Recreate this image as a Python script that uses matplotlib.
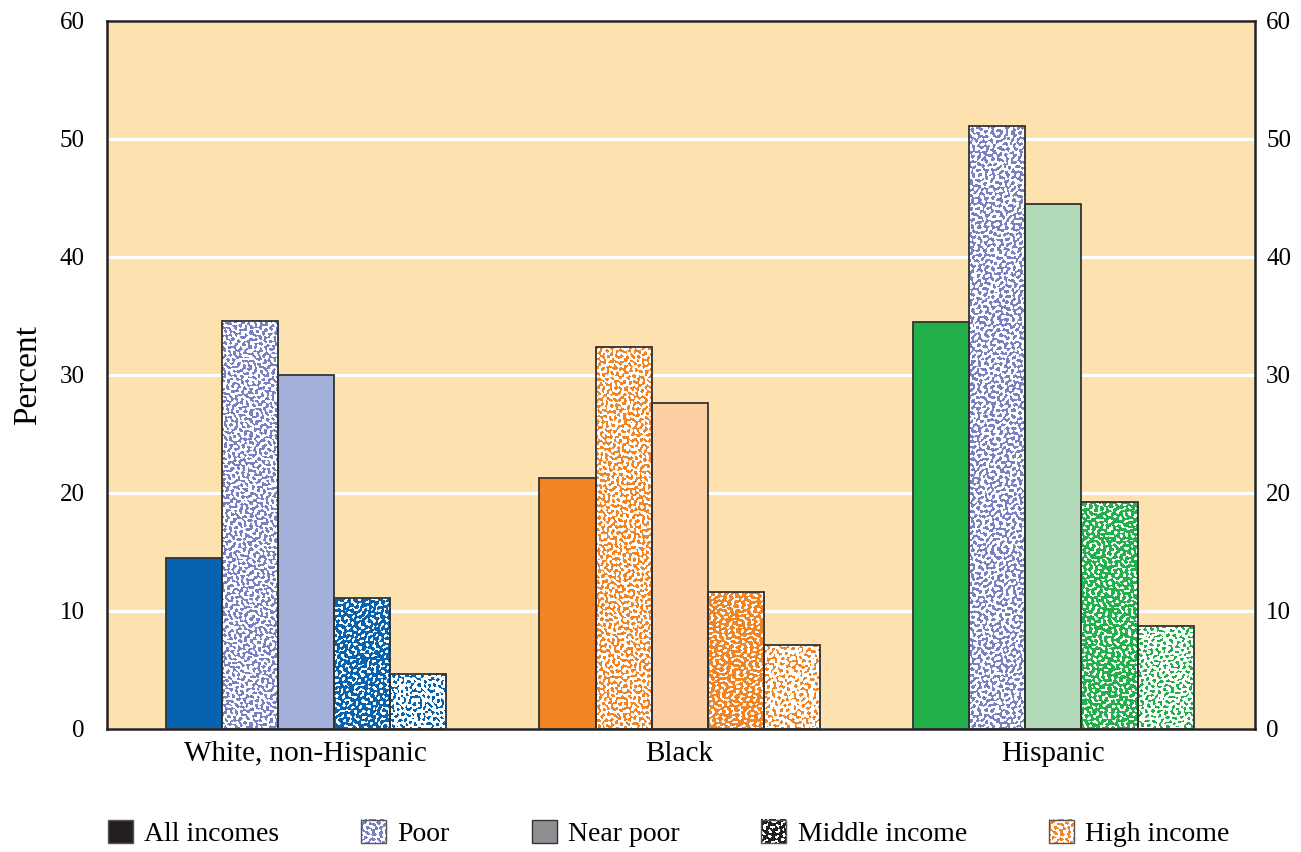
import matplotlib
matplotlib.use("Agg")
import matplotlib.pyplot as plt
from matplotlib.patches import Patch, Rectangle
from matplotlib.legend_handler import HandlerBase
from matplotlib.image import BboxImage
from matplotlib.transforms import Bbox, TransformedBbox
from matplotlib.colors import to_rgba
import numpy as np

plt.rcParams['font.family'] = ['Liberation Serif', 'DejaVu Serif']

categories = ["White, non-Hispanic", "Black", "Hispanic"]
series_names = ["All incomes", "Poor", "Near poor", "Middle income", "High income"]
all_incomes = [14.5, 21.3, 34.5]
poor = [34.6, 32.4, 51.1]
near_poor = [30.0, 27.6, 44.5]
middle_income = [11.1, 11.6, 19.2]
high_income = [4.7, 7.1, 8.7]
yticks = [0, 10, 20, 30, 40, 50, 60]

values = [all_incomes, poor, near_poor, middle_income, high_income]

blue = "#0762b0"
orange = "#f28423"
green = "#22b04b"
lav = "#7a80c4"
group_main = [blue, orange, green]
group_light = ["#a3b0d9", "#fccfa4", "#b3dab8"]
poor_tex = [lav, orange, lav]


def texture(h, w, ink, paper, frac, shift=0.0, scale=0.75):
    """Deterministic worm-like texture (quasi-periodic interference pattern)."""
    yy, xx = np.mgrid[0:h, 0:w].astype(float)
    f = np.zeros((h, w))
    golden = 0.6180339887
    for k in range(13):
        a = np.pi * ((k * golden + shift) % 1.0)
        lam = scale * (5.0 + 4.0 * ((k * 0.4142 + shift) % 1.0))
        ph = 2 * np.pi * ((k * 0.7548 + shift * 3) % 1.0)
        f += np.cos(2 * np.pi / lam * (xx * np.cos(a) + yy * np.sin(a)) + ph)
    thr = np.quantile(f, 1 - frac)
    mask = f > thr
    out = np.empty((h, w, 4))
    out[:] = to_rgba(paper)
    out[mask] = to_rgba(ink)
    return out


# (facecolor, ink, paper, coverage) per series per group
def style(series, g):
    if series == 0:
        return group_main[g], None, None, None
    if series == 1:
        return None, poor_tex[g], "white", 0.45
    if series == 2:
        return group_light[g], None, None, None
    if series == 3:
        return None, group_main[g], "white", 0.68
    return None, group_main[g], "white", 0.33


fig = plt.figure(figsize=(13.01, 8.52), dpi=100)
ax = fig.add_axes([0.0822, 0.1444, 0.8824, 0.831])
ax.set_facecolor("#fde2b0")
ax.set_xlim(-0.532, 2.539)
ax.set_ylim(0, 60)

x = np.arange(len(categories))
w = 0.15
px_per_x = ax.transData.transform((1, 0))[0] - ax.transData.transform((0, 0))[0]
px_per_y = ax.transData.transform((0, 1))[1] - ax.transData.transform((0, 0))[1]

for s in range(5):
    offs = (s - 2) * w
    for g in range(3):
        fc, ink, paper, frac = style(s, g)
        xc = x[g] + offs
        v = values[s][g]
        if fc is not None:
            ax.bar(xc, v, w, color=fc, linewidth=0, zorder=2)
        else:
            wp = max(int(round(w * px_per_x)), 2)
            hp = max(int(round(v * px_per_y)), 2)
            tex = texture(hp, wp, ink, paper, frac, shift=0.13 * (s + 3 * g))
            ax.imshow(tex, extent=[xc - w / 2, xc + w / 2, 0, v], origin="lower",
                      interpolation="nearest", aspect="auto", zorder=2)
        ax.bar(xc, v, w, fill=False, edgecolor="#333333", linewidth=1.3, zorder=3)

ax.set_xlim(-0.532, 2.539)
ax.set_ylim(0, 60)
ax.set_yticks(yticks)
ax.yaxis.grid(True, color="white", linewidth=2.2, zorder=1)
ax.set_axisbelow(True)
ax.set_xticks(x)
ax.set_xticklabels(categories, fontsize=21)
ax.tick_params(axis='x', length=0, pad=9)
ax.tick_params(axis='y', length=0, pad=16, labelsize=18)
for sp in ax.spines.values():
    sp.set_color("#222222")
    sp.set_linewidth(1.8)
ax.set_ylabel("Percent", fontsize=24, labelpad=12)

ax2 = ax.twinx()
ax2.set_ylim(0, 60)
ax2.set_yticks(yticks)
ax2.tick_params(axis='y', length=0, pad=8, labelsize=18)
for sp in ax2.spines.values():
    sp.set_visible(False)


class TexHandle:
    def __init__(self, ink, paper, frac):
        self.ink, self.paper, self.frac = ink, paper, frac


class HandlerTex(HandlerBase):
    def create_artists(self, legend, orig_handle, xdescent, ydescent,
                       width, height, fontsize, trans):
        bbox = TransformedBbox(Bbox.from_bounds(-xdescent, -ydescent, width, height), trans)
        img = BboxImage(bbox, interpolation="nearest")
        img.set_data(texture(24, 24, orig_handle.ink, orig_handle.paper,
                             orig_handle.frac, shift=0.37))
        rect = Rectangle((-xdescent, -ydescent), width, height, fill=False,
                         edgecolor="#555555", linewidth=1.0, transform=trans)
        return [img, rect]


handles = [
    Patch(facecolor="#231f20", edgecolor="#555555"),
    TexHandle(lav, "white", 0.45),
    Patch(facecolor="#8e8f93", edgecolor="#333333"),
    TexHandle("#231f20", "white", 0.68),
    TexHandle(orange, "white", 0.40),
]
leg = fig.legend(handles, series_names, loc="center", bbox_to_anchor=(0.514, 0.022),
                 ncol=5, frameon=False, fontsize=20, handlelength=0.9,
                 handleheight=0.9, columnspacing=2.95, handletextpad=0.4,
                 handler_map={TexHandle: HandlerTex()})

fig.savefig("out.png", dpi=100)
